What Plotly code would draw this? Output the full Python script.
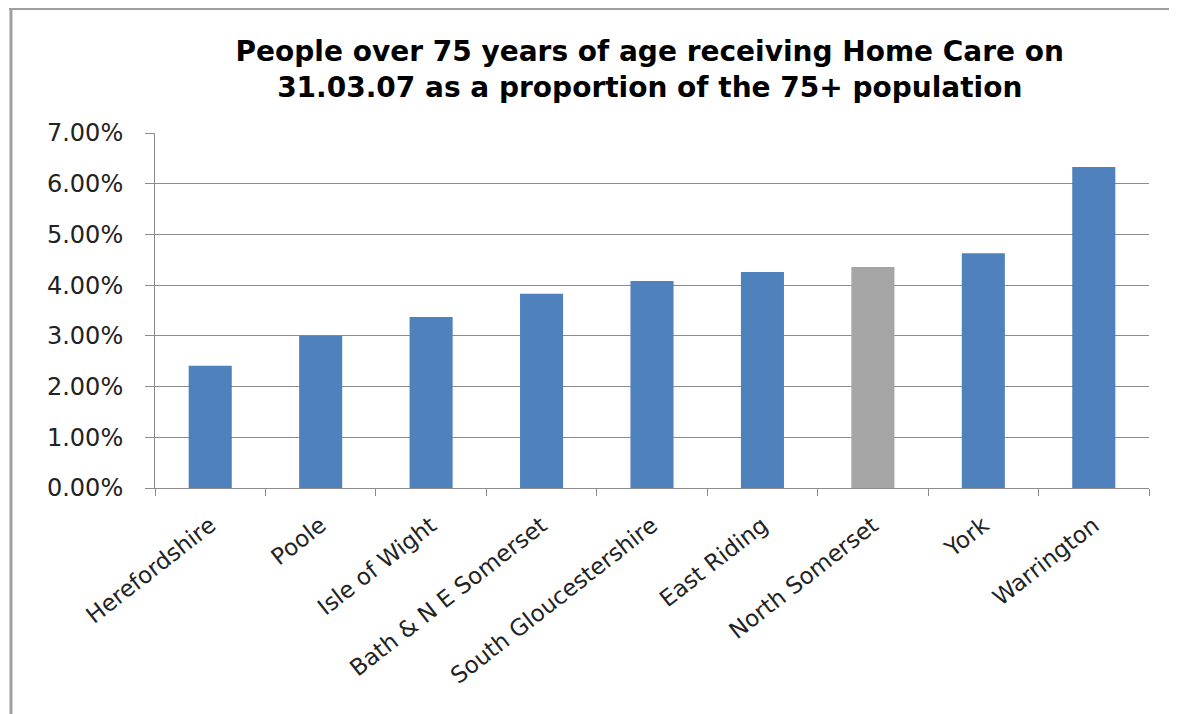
import plotly.graph_objects as go

categories = ["Herefordshire", "Poole", "Isle of Wight", "Bath & N E Somerset",
              "South Gloucestershire", "East Riding", "North Somerset", "York", "Warrington"]
values = [0.0241, 0.0300, 0.0337, 0.0383, 0.0408, 0.0426, 0.0436, 0.0463, 0.0633]
bar_colors = ["#4F81BD"] * 6 + ["#A5A5A5"] + ["#4F81BD"] * 2
y_ticks = [0, 0.01, 0.02, 0.03, 0.04, 0.05, 0.06, 0.07]
title_text = "People over 75 years of age receiving Home Care on<br>31.03.07 as a proportion of the 75+ population"

fig = go.Figure(go.Bar(x=categories, y=values, marker=dict(color=bar_colors, line=dict(width=0))))

fig.update_layout(
    width=1169, height=706,
    paper_bgcolor="white", plot_bgcolor="white",
    margin=dict(l=147, r=28, t=125, b=226),
    bargap=0.61,
    showlegend=False,
    title=dict(text="<b>" + title_text + "</b>", xref="container", x=0.549, xanchor="center",
               yref="container", y=0.925, yanchor="middle",
               font=dict(family="DejaVu Sans", size=28, color="black")),
    font=dict(family="DejaVu Sans", size=20, color="#222222"),
)
fig.update_yaxes(range=[0, 0.07], tickvals=y_ticks, tickformat=".2%",
                 showgrid=True, gridcolor="#8C8C8C", gridwidth=1,
                 showline=True, linecolor="#8C8C8C", linewidth=1,
                 ticks="outside", ticklen=9, tickcolor="#8C8C8C",
                 ticklabelstandoff=17,
                 zeroline=False, tickfont=dict(size=24, color="#222222"))
fig.update_xaxes(showline=True, linecolor="#8C8C8C", linewidth=1,
                 ticks="outside", ticklen=7, tickcolor="#8C8C8C", tickson="boundaries",
                 ticklabelstandoff=14,
                 tickangle=-38, tickfont=dict(size=23, color="#222222"))

fig.add_shape(type="line", xref="paper", yref="paper", x0=-0.1469, x1=1.028, y0=1.349, y1=1.349,
              line=dict(color="#A0A0A0", width=2))
fig.add_shape(type="line", xref="paper", yref="paper", x0=-0.1449, x1=-0.1449, y0=1.349, y1=-0.637,
              line=dict(color="#A0A0A0", width=3))

fig.write_html("out.html")
